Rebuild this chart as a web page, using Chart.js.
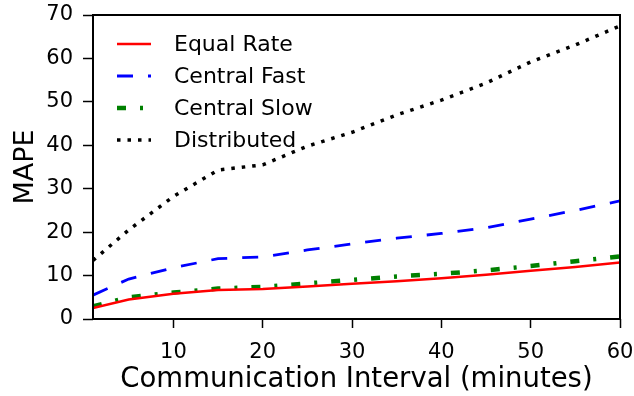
<!DOCTYPE html>
<html>
<head>
<meta charset="utf-8">
<script src="https://cdn.jsdelivr.net/npm/chart.js@4.4.1/dist/chart.umd.min.js"></script>
<style>
  html, body { margin: 0; padding: 0; background: #fff; }
  #wrap { width: 634px; height: 396px; }
</style>
</head>
<body>
<div id="wrap"><canvas id="chart" width="634" height="396"></canvas></div>
<script>
// data
const intervals = [1, 5, 10, 15, 20, 25, 30, 35, 40, 45, 50, 55, 60];
const equalRate = [2.5, 4.5, 5.8, 6.7, 6.9, 7.5, 8.1, 8.7, 9.4, 10.2, 11.1, 12.0, 13.0];
const centralFast = [5.5, 9.2, 11.8, 13.9, 14.3, 15.9, 17.3, 18.6, 19.7, 21.0, 23.0, 25.0, 27.2];
const centralSlow = [2.9, 5.0, 6.1, 7.0, 7.4, 8.2, 9.0, 9.8, 10.4, 11.2, 12.2, 13.3, 14.4];
const distributed = [13.5, 20.5, 28.2, 34.3, 35.5, 39.8, 43.0, 47.0, 50.4, 54.3, 59.2, 63.1, 67.5];
const xTicks = [10, 20, 30, 40, 50, 60];
const yTicks = [0, 10, 20, 30, 40, 50, 60, 70];

const FONT = "'DejaVu Sans', sans-serif";

function pts(ys) {
  return intervals.map((x, i) => ({ x: x, y: ys[i] }));
}

// legend inside the plot, top left, no frame
const innerLegend = {
  id: "innerLegend",
  afterDraw(chart) {
    const ctx = chart.ctx;
    ctx.save();
    chart.data.datasets.forEach((ds, i) => {
      const y = 44 + i * 32;
      ctx.beginPath();
      ctx.strokeStyle = ds.borderColor;
      ctx.lineWidth = ds.borderWidth;
      ctx.lineCap = "butt";
      ctx.setLineDash(ds.borderDash || []);
      ctx.moveTo(117, y);
      ctx.lineTo(151, y);
      ctx.stroke();
      ctx.setLineDash([]);
      ctx.fillStyle = "#000";
      ctx.font = "22px " + FONT;
      ctx.textBaseline = "middle";
      ctx.textAlign = "left";
      ctx.fillText(ds.label, 174, y + 1);
    });
    ctx.restore();
  }
};

// black box round the plot
const frame = {
  id: "frame",
  afterDraw(chart) {
    const a = chart.chartArea;
    const ctx = chart.ctx;
    ctx.save();
    ctx.strokeStyle = "#000";
    ctx.lineWidth = 2;
    ctx.strokeRect(a.left, a.top, a.right - a.left, a.bottom - a.top);
    ctx.restore();
  }
};

new Chart(document.getElementById("chart"), {
  type: "line",
  data: {
    datasets: [
      { label: "Equal Rate", data: pts(equalRate), borderColor: "#ff0000", borderWidth: 2.5 },
      { label: "Central Fast", data: pts(centralFast), borderColor: "#0000ff", borderWidth: 2.8, borderDash: [16, 15] },
      { label: "Central Slow", data: pts(centralSlow), borderColor: "#008000", borderWidth: 4.5, borderDash: [9, 14, 3, 14] },
      { label: "Distributed", data: pts(distributed), borderColor: "#000000", borderWidth: 3.5, borderDash: [3.5, 7] }
    ]
  },
  options: {
    responsive: false,
    animation: false,
    events: [],
    layout: { padding: { left: 0, right: 14, top: 15, bottom: 0 } },
    elements: { point: { radius: 0 }, line: { tension: 0, borderCapStyle: "butt" } },
    plugins: { legend: { display: false }, tooltip: { enabled: false } },
    scales: {
      x: {
        type: "linear",
        min: 1,
        max: 60,
        afterBuildTicks: (s) => { s.ticks = xTicks.map(v => ({ value: v })); },
        afterFit: (s) => { s.height = 77; s.paddingLeft = 0; s.paddingRight = 0; },
        grid: { drawOnChartArea: false, tickLength: 9, tickColor: "#000", tickWidth: 1.5 },
        border: { display: false },
        ticks: { color: "#000", font: { family: FONT, size: 21 }, padding: 12, maxRotation: 0 },
        title: { display: true, text: "Communication Interval (minutes)", color: "#000", font: { family: FONT, size: 27.5 }, padding: { top: 0, bottom: 0 } }
      },
      y: {
        min: 0,
        max: 70,
        afterBuildTicks: (s) => { s.ticks = yTicks.map(v => ({ value: v })); },
        afterFit: (s) => { s.width = 93; s.paddingTop = 0; s.paddingBottom = 0; },
        grid: { drawOnChartArea: false, tickLength: 10, tickColor: "#000", tickWidth: 1.5 },
        border: { display: false },
        ticks: { color: "#000", font: { family: FONT, size: 21 }, padding: 10 },
        title: { display: true, text: "MAPE", color: "#000", font: { family: FONT, size: 27 }, padding: { top: 10, bottom: 0 } }
      }
    }
  },
  plugins: [innerLegend, frame]
});
</script>
</body>
</html>
